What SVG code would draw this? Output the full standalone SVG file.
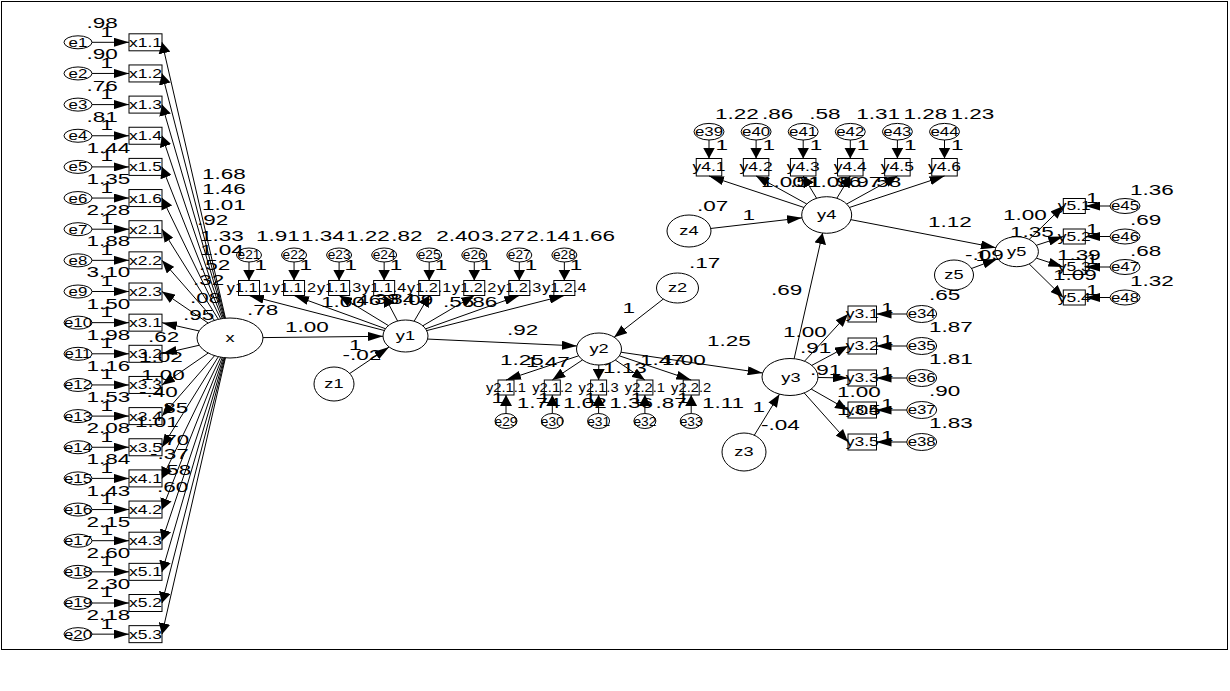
<svg xmlns="http://www.w3.org/2000/svg" width="1230" height="691" viewBox="0 0 1230 691">
<style>
.nd ellipse,.nd rect{fill:#fff;stroke:#000;stroke-width:1}
#connectors line{stroke:#000;stroke-width:1;fill:none}
text{font-family:"Liberation Sans",Arial,sans-serif;fill:#000;transform-box:fill-box}
.n{font-size:15px;transform-origin:0 50%;transform:scaleX(1.5)}
.nl{font-size:12.5px;text-anchor:middle;transform-origin:50% 50%;transform:scaleX(1.35)}
.ns{font-size:12.5px;text-anchor:middle;transform-origin:50% 50%;transform:scaleX(1.1)}
.lv{font-size:13px;text-anchor:middle;transform-origin:50% 50%;transform:scaleX(1.4)}
.bl{font-size:12.5px;text-anchor:middle;transform-origin:50% 50%;transform:scaleX(1.4)}
.b1{font-size:12.5px;text-anchor:middle;transform-origin:50% 50%;transform:scaleX(1.3)}
.b2{font-size:12.5px;text-anchor:middle;transform-origin:50% 50%;transform:scaleX(1.18)}
</style>
<defs>
<marker id="ah" viewBox="0 0 15 9" refX="15" refY="4.5" markerWidth="15" markerHeight="9" markerUnits="userSpaceOnUse" orient="auto"><path d="M0,0L15,4.5L0,9z" fill="#000"/></marker>
<marker id="av" viewBox="0 0 11 12" refX="11" refY="6" markerWidth="11" markerHeight="12" markerUnits="userSpaceOnUse" orient="auto"><path d="M0,0L11,6L0,12z" fill="#000"/></marker>
<marker id="ad" viewBox="0 0 13 10" refX="13" refY="5" markerWidth="13" markerHeight="10" markerUnits="userSpaceOnUse" orient="auto"><path d="M0,0L13,5L0,10z" fill="#000"/></marker>
</defs>
<rect x="1.5" y="1.5" width="1226" height="648" fill="#fff" stroke="#000" stroke-width="1"/>

<g class="nd">
<g id="x"><ellipse cx="230" cy="338" rx="33" ry="20"/><text class="lv" x="230" y="342.5">x</text></g>
<g id="y1"><ellipse cx="405.5" cy="336" rx="22.5" ry="16"/><text class="lv" x="405.5" y="340.5">y1</text></g>
<g id="y2"><ellipse cx="599" cy="349" rx="22.5" ry="16"/><text class="lv" x="599" y="353.5">y2</text></g>
<g id="y3"><ellipse cx="790" cy="377" rx="28" ry="18.5"/><text class="lv" x="791" y="382.5">y3</text></g>
<g id="y4"><ellipse cx="826.7" cy="215" rx="25" ry="18.3"/><text class="lv" x="826.7" y="219.5">y4</text></g>
<g id="y5"><ellipse cx="1016.7" cy="251.7" rx="21.7" ry="15"/><text class="lv" x="1016.7" y="256.5">y5</text></g>
<g id="z1"><ellipse cx="334" cy="384" rx="20" ry="17"/><text class="lv" x="334" y="388.5">z1</text></g>
<g id="z2"><ellipse cx="677.5" cy="288" rx="21" ry="15"/><text class="lv" x="677.5" y="292.5">z2</text></g>
<g id="z3"><ellipse cx="744" cy="452" rx="22" ry="19"/><text class="lv" x="744" y="456.5">z3</text></g>
<g id="z4"><ellipse cx="689" cy="231" rx="22" ry="16"/><text class="lv" x="689" y="235.5">z4</text></g>
<g id="z5"><ellipse cx="954" cy="275" rx="19.5" ry="15"/><text class="lv" x="954" y="279.5">z5</text></g>

<g id="e1"><ellipse cx="78" cy="42.3" rx="14" ry="6.5"/><text class="nl" x="78" y="46.8">e1</text></g>
<g id="e2"><ellipse cx="78" cy="73.45" rx="14" ry="6.5"/><text class="nl" x="78" y="77.95">e2</text></g>
<g id="e3"><ellipse cx="78" cy="104.6" rx="14" ry="6.5"/><text class="nl" x="78" y="109.1">e3</text></g>
<g id="e4"><ellipse cx="78" cy="135.75" rx="14" ry="6.5"/><text class="nl" x="78" y="140.25">e4</text></g>
<g id="e5"><ellipse cx="78" cy="166.9" rx="14" ry="6.5"/><text class="nl" x="78" y="171.4">e5</text></g>
<g id="e6"><ellipse cx="78" cy="198.05" rx="14" ry="6.5"/><text class="nl" x="78" y="202.55">e6</text></g>
<g id="e7"><ellipse cx="78" cy="229.2" rx="14" ry="6.5"/><text class="nl" x="78" y="233.7">e7</text></g>
<g id="e8"><ellipse cx="78" cy="260.35" rx="14" ry="6.5"/><text class="nl" x="78" y="264.85">e8</text></g>
<g id="e9"><ellipse cx="78" cy="291.5" rx="14" ry="6.5"/><text class="nl" x="78" y="296">e9</text></g>
<g id="e10"><ellipse cx="78" cy="322.65" rx="14" ry="6.5"/><text class="nl" x="78" y="327.15">e10</text></g>
<g id="e11"><ellipse cx="78" cy="353.8" rx="14" ry="6.5"/><text class="nl" x="78" y="358.3">e11</text></g>
<g id="e12"><ellipse cx="78" cy="384.95" rx="14" ry="6.5"/><text class="nl" x="78" y="389.45">e12</text></g>
<g id="e13"><ellipse cx="78" cy="416.1" rx="14" ry="6.5"/><text class="nl" x="78" y="420.6">e13</text></g>
<g id="e14"><ellipse cx="78" cy="447.25" rx="14" ry="6.5"/><text class="nl" x="78" y="451.75">e14</text></g>
<g id="e15"><ellipse cx="78" cy="478.4" rx="14" ry="6.5"/><text class="nl" x="78" y="482.9">e15</text></g>
<g id="e16"><ellipse cx="78" cy="509.55" rx="14" ry="6.5"/><text class="nl" x="78" y="514.05">e16</text></g>
<g id="e17"><ellipse cx="78" cy="540.7" rx="14" ry="6.5"/><text class="nl" x="78" y="545.2">e17</text></g>
<g id="e18"><ellipse cx="78" cy="571.85" rx="14" ry="6.5"/><text class="nl" x="78" y="576.35">e18</text></g>
<g id="e19"><ellipse cx="78" cy="603" rx="14" ry="6.5"/><text class="nl" x="78" y="607.5">e19</text></g>
<g id="e20"><ellipse cx="78" cy="634.15" rx="14" ry="6.5"/><text class="nl" x="78" y="638.65">e20</text></g>

<g id="x1.1"><rect x="129" y="33.8" width="33" height="17"/><text class="bl" x="145.5" y="46.8">x1.1</text></g>
<g id="x1.2"><rect x="129" y="64.95" width="33" height="17"/><text class="bl" x="145.5" y="77.95">x1.2</text></g>
<g id="x1.3"><rect x="129" y="96.1" width="33" height="17"/><text class="bl" x="145.5" y="109.1">x1.3</text></g>
<g id="x1.4"><rect x="129" y="127.25" width="33" height="17"/><text class="bl" x="145.5" y="140.25">x1.4</text></g>
<g id="x1.5"><rect x="129" y="158.4" width="33" height="17"/><text class="bl" x="145.5" y="171.4">x1.5</text></g>
<g id="x1.6"><rect x="129" y="189.55" width="33" height="17"/><text class="bl" x="145.5" y="202.55">x1.6</text></g>
<g id="x2.1"><rect x="129" y="220.7" width="33" height="17"/><text class="bl" x="145.5" y="233.7">x2.1</text></g>
<g id="x2.2"><rect x="129" y="251.85" width="33" height="17"/><text class="bl" x="145.5" y="264.85">x2.2</text></g>
<g id="x2.3"><rect x="129" y="283" width="33" height="17"/><text class="bl" x="145.5" y="296">x2.3</text></g>
<g id="x3.1"><rect x="129" y="314.15" width="33" height="17"/><text class="bl" x="145.5" y="327.15">x3.1</text></g>
<g id="x3.2"><rect x="129" y="345.3" width="33" height="17"/><text class="bl" x="145.5" y="358.3">x3.2</text></g>
<g id="x3.3"><rect x="129" y="376.45" width="33" height="17"/><text class="bl" x="145.5" y="389.45">x3.3</text></g>
<g id="x3.4"><rect x="129" y="407.6" width="33" height="17"/><text class="bl" x="145.5" y="420.6">x3.4</text></g>
<g id="x3.5"><rect x="129" y="438.75" width="33" height="17"/><text class="bl" x="145.5" y="451.75">x3.5</text></g>
<g id="x4.1"><rect x="129" y="469.9" width="33" height="17"/><text class="bl" x="145.5" y="482.9">x4.1</text></g>
<g id="x4.2"><rect x="129" y="501.05" width="33" height="17"/><text class="bl" x="145.5" y="514.05">x4.2</text></g>
<g id="x4.3"><rect x="129" y="532.2" width="33" height="17"/><text class="bl" x="145.5" y="545.2">x4.3</text></g>
<g id="x5.1"><rect x="129" y="563.35" width="33" height="17"/><text class="bl" x="145.5" y="576.35">x5.1</text></g>
<g id="x5.2"><rect x="129" y="594.5" width="33" height="17"/><text class="bl" x="145.5" y="607.5">x5.2</text></g>
<g id="x5.3"><rect x="129" y="625.65" width="33" height="17"/><text class="bl" x="145.5" y="638.65">x5.3</text></g>

<g id="e21"><ellipse cx="249" cy="255" rx="12.5" ry="7"/><text class="ns" x="249" y="259.5">e21</text></g>
<g id="e22"><ellipse cx="294.05" cy="255" rx="12.5" ry="7"/><text class="ns" x="294.05" y="259.5">e22</text></g>
<g id="e23"><ellipse cx="339.1" cy="255" rx="12.5" ry="7"/><text class="ns" x="339.1" y="259.5">e23</text></g>
<g id="e24"><ellipse cx="384.15" cy="255" rx="12.5" ry="7"/><text class="ns" x="384.15" y="259.5">e24</text></g>
<g id="e25"><ellipse cx="429.2" cy="255" rx="12.5" ry="7"/><text class="ns" x="429.2" y="259.5">e25</text></g>
<g id="e26"><ellipse cx="474.25" cy="255" rx="12.5" ry="7"/><text class="ns" x="474.25" y="259.5">e26</text></g>
<g id="e27"><ellipse cx="519.3" cy="255" rx="12.5" ry="7"/><text class="ns" x="519.3" y="259.5">e27</text></g>
<g id="e28"><ellipse cx="564.35" cy="255" rx="12.5" ry="7"/><text class="ns" x="564.35" y="259.5">e28</text></g>

<g id="y1.1.1"><rect x="238.5" y="280.5" width="21" height="15"/><text class="b1" x="249" y="292.5">y1.1.1</text></g>
<g id="y1.1.2"><rect x="283.55" y="280.5" width="21" height="15"/><text class="b1" x="294.05" y="292.5">y1.1.2</text></g>
<g id="y1.1.3"><rect x="328.6" y="280.5" width="21" height="15"/><text class="b1" x="339.1" y="292.5">y1.1.3</text></g>
<g id="y1.1.4"><rect x="373.65" y="280.5" width="21" height="15"/><text class="b1" x="384.15" y="292.5">y1.1.4</text></g>
<g id="y1.2.1"><rect x="418.7" y="280.5" width="21" height="15"/><text class="b1" x="429.2" y="292.5">y1.2.1</text></g>
<g id="y1.2.2"><rect x="463.75" y="280.5" width="21" height="15"/><text class="b1" x="474.25" y="292.5">y1.2.2</text></g>
<g id="y1.2.3"><rect x="508.8" y="280.5" width="21" height="15"/><text class="b1" x="519.3" y="292.5">y1.2.3</text></g>
<g id="y1.2.4"><rect x="553.85" y="280.5" width="21" height="15"/><text class="b1" x="564.35" y="292.5">y1.2.4</text></g>

<g id="y2.1.1"><rect x="498" y="380" width="16" height="15"/><text class="b2" x="506" y="392">y2.1.1</text></g>
<g id="y2.1.2"><rect x="544.3" y="380" width="16" height="15"/><text class="b2" x="552.3" y="392">y2.1.2</text></g>
<g id="y2.1.3"><rect x="590.6" y="380" width="16" height="15"/><text class="b2" x="598.6" y="392">y2.1.3</text></g>
<g id="y2.2.1"><rect x="636.9" y="380" width="16" height="15"/><text class="b2" x="644.9" y="392">y2.2.1</text></g>
<g id="y2.2.2"><rect x="683.2" y="380" width="16" height="15"/><text class="b2" x="691.2" y="392">y2.2.2</text></g>
<g id="e29"><ellipse cx="506" cy="421" rx="11" ry="7.5"/><text class="ns" x="506" y="425.5">e29</text></g>
<g id="e30"><ellipse cx="552.3" cy="421" rx="11" ry="7.5"/><text class="ns" x="552.3" y="425.5">e30</text></g>
<g id="e31"><ellipse cx="598.6" cy="421" rx="11" ry="7.5"/><text class="ns" x="598.6" y="425.5">e31</text></g>
<g id="e32"><ellipse cx="644.9" cy="421" rx="11" ry="7.5"/><text class="ns" x="644.9" y="425.5">e32</text></g>
<g id="e33"><ellipse cx="691.2" cy="421" rx="11" ry="7.5"/><text class="ns" x="691.2" y="425.5">e33</text></g>

<g id="y3.1"><rect x="848" y="306" width="28.5" height="16"/><text class="bl" x="862.25" y="318.5">y3.1</text></g>
<g id="y3.2"><rect x="848" y="338" width="28.5" height="16"/><text class="bl" x="862.25" y="350.5">y3.2</text></g>
<g id="y3.3"><rect x="848" y="370" width="28.5" height="16"/><text class="bl" x="862.25" y="382.5">y3.3</text></g>
<g id="y3.4"><rect x="848" y="402" width="28.5" height="16"/><text class="bl" x="862.25" y="414.5">y3.4</text></g>
<g id="y3.5"><rect x="848" y="434" width="28.5" height="16"/><text class="bl" x="862.25" y="446.5">y3.5</text></g>
<g id="e34"><ellipse cx="921.7" cy="314" rx="15" ry="8.5"/><text class="nl" x="921.7" y="318.5">e34</text></g>
<g id="e35"><ellipse cx="921.7" cy="346" rx="15" ry="8.5"/><text class="nl" x="921.7" y="350.5">e35</text></g>
<g id="e36"><ellipse cx="921.7" cy="378" rx="15" ry="8.5"/><text class="nl" x="921.7" y="382.5">e36</text></g>
<g id="e37"><ellipse cx="921.7" cy="410" rx="15" ry="8.5"/><text class="nl" x="921.7" y="414.5">e37</text></g>
<g id="e38"><ellipse cx="921.7" cy="442" rx="15" ry="8.5"/><text class="nl" x="921.7" y="446.5">e38</text></g>

<g id="y4.1"><rect x="696.25" y="158.5" width="25.5" height="17.5"/><text class="bl" x="709" y="171.5">y4.1</text></g>
<g id="y4.2"><rect x="743.35" y="158.5" width="25.5" height="17.5"/><text class="bl" x="756.1" y="171.5">y4.2</text></g>
<g id="y4.3"><rect x="790.45" y="158.5" width="25.5" height="17.5"/><text class="bl" x="803.2" y="171.5">y4.3</text></g>
<g id="y4.4"><rect x="837.55" y="158.5" width="25.5" height="17.5"/><text class="bl" x="850.3" y="171.5">y4.4</text></g>
<g id="y4.5"><rect x="884.65" y="158.5" width="25.5" height="17.5"/><text class="bl" x="897.4" y="171.5">y4.5</text></g>
<g id="y4.6"><rect x="931.75" y="158.5" width="25.5" height="17.5"/><text class="bl" x="944.5" y="171.5">y4.6</text></g>
<g id="e39"><ellipse cx="709" cy="131.7" rx="15" ry="8.3"/><text class="nl" x="709" y="136.2">e39</text></g>
<g id="e40"><ellipse cx="756.1" cy="131.7" rx="15" ry="8.3"/><text class="nl" x="756.1" y="136.2">e40</text></g>
<g id="e41"><ellipse cx="803.2" cy="131.7" rx="15" ry="8.3"/><text class="nl" x="803.2" y="136.2">e41</text></g>
<g id="e42"><ellipse cx="850.3" cy="131.7" rx="15" ry="8.3"/><text class="nl" x="850.3" y="136.2">e42</text></g>
<g id="e43"><ellipse cx="897.4" cy="131.7" rx="15" ry="8.3"/><text class="nl" x="897.4" y="136.2">e43</text></g>
<g id="e44"><ellipse cx="944.5" cy="131.7" rx="15" ry="8.3"/><text class="nl" x="944.5" y="136.2">e44</text></g>

<g id="y5.1"><rect x="1063.3" y="198.5" width="22" height="15"/><text class="bl" x="1074.3" y="210.5">y5.1</text></g>
<g id="y5.2"><rect x="1063.3" y="229" width="22" height="15"/><text class="bl" x="1074.3" y="241">y5.2</text></g>
<g id="y5.3"><rect x="1063.3" y="259.5" width="22" height="15"/><text class="bl" x="1074.3" y="271.5">y5.3</text></g>
<g id="y5.4"><rect x="1063.3" y="290" width="22" height="15"/><text class="bl" x="1074.3" y="302">y5.4</text></g>
<g id="e45"><ellipse cx="1125" cy="206" rx="15" ry="7.5"/><text class="nl" x="1125" y="210.5">e45</text></g>
<g id="e46"><ellipse cx="1125" cy="236.5" rx="15" ry="7.5"/><text class="nl" x="1125" y="241">e46</text></g>
<g id="e47"><ellipse cx="1125" cy="267" rx="15" ry="7.5"/><text class="nl" x="1125" y="271.5">e47</text></g>
<g id="e48"><ellipse cx="1125" cy="297.5" rx="15" ry="7.5"/><text class="nl" x="1125" y="302">e48</text></g>
</g>

<g id="connectors">
<line x1="92" y1="42.3" x2="129" y2="42.3" marker-end="url(#ah)"/>
<line x1="92" y1="73.45" x2="129" y2="73.45" marker-end="url(#ah)"/>
<line x1="92" y1="104.6" x2="129" y2="104.6" marker-end="url(#ah)"/>
<line x1="92" y1="135.75" x2="129" y2="135.75" marker-end="url(#ah)"/>
<line x1="92" y1="166.9" x2="129" y2="166.9" marker-end="url(#ah)"/>
<line x1="92" y1="198.05" x2="129" y2="198.05" marker-end="url(#ah)"/>
<line x1="92" y1="229.2" x2="129" y2="229.2" marker-end="url(#ah)"/>
<line x1="92" y1="260.35" x2="129" y2="260.35" marker-end="url(#ah)"/>
<line x1="92" y1="291.5" x2="129" y2="291.5" marker-end="url(#ah)"/>
<line x1="92" y1="322.65" x2="129" y2="322.65" marker-end="url(#ah)"/>
<line x1="92" y1="353.8" x2="129" y2="353.8" marker-end="url(#ah)"/>
<line x1="92" y1="384.95" x2="129" y2="384.95" marker-end="url(#ah)"/>
<line x1="92" y1="416.1" x2="129" y2="416.1" marker-end="url(#ah)"/>
<line x1="92" y1="447.25" x2="129" y2="447.25" marker-end="url(#ah)"/>
<line x1="92" y1="478.4" x2="129" y2="478.4" marker-end="url(#ah)"/>
<line x1="92" y1="509.55" x2="129" y2="509.55" marker-end="url(#ah)"/>
<line x1="92" y1="540.7" x2="129" y2="540.7" marker-end="url(#ah)"/>
<line x1="92" y1="571.85" x2="129" y2="571.85" marker-end="url(#ah)"/>
<line x1="92" y1="603" x2="129" y2="603" marker-end="url(#ah)"/>
<line x1="92" y1="634.15" x2="129" y2="634.15" marker-end="url(#ah)"/>

<line x1="225.45" y1="318.19" x2="162" y2="42.3" marker-end="url(#av)"/>
<line x1="224.92" y1="318.24" x2="162" y2="73.45" marker-end="url(#av)"/>
<line x1="224.26" y1="318.3" x2="162" y2="104.6" marker-end="url(#av)"/>
<line x1="223.4" y1="318.4" x2="162" y2="135.75" marker-end="url(#av)"/>
<line x1="222.27" y1="318.56" x2="162" y2="166.9" marker-end="url(#av)"/>
<line x1="220.68" y1="318.81" x2="162" y2="198.05" marker-end="url(#av)"/>
<line x1="218.33" y1="319.29" x2="162" y2="229.2" marker-end="url(#ad)"/>
<line x1="214.51" y1="320.34" x2="162" y2="260.35" marker-end="url(#ad)"/>
<line x1="208.11" y1="323.03" x2="162" y2="291.5" marker-end="url(#ad)"/>
<line x1="199.11" y1="330.96" x2="162" y2="322.65" marker-end="url(#ah)"/>
<line x1="199.24" y1="345.24" x2="162" y2="353.8" marker-end="url(#ah)"/>
<line x1="208.24" y1="353.04" x2="162" y2="384.95" marker-end="url(#ad)"/>
<line x1="214.58" y1="355.68" x2="162" y2="416.1" marker-end="url(#ad)"/>
<line x1="218.33" y1="356.71" x2="162" y2="447.25" marker-end="url(#ad)"/>
<line x1="220.71" y1="357.19" x2="162" y2="478.4" marker-end="url(#av)"/>
<line x1="222.29" y1="357.45" x2="162" y2="509.55" marker-end="url(#av)"/>
<line x1="223.42" y1="357.6" x2="162" y2="540.7" marker-end="url(#av)"/>
<line x1="224.28" y1="357.7" x2="162" y2="571.85" marker-end="url(#av)"/>
<line x1="224.93" y1="357.76" x2="162" y2="603" marker-end="url(#av)"/>
<line x1="225.45" y1="357.81" x2="162" y2="634.15" marker-end="url(#av)"/>

<line x1="263" y1="337.6" x2="383" y2="336.3" marker-end="url(#ah)"/>
<line x1="349.7" y1="373.5" x2="389.1" y2="347" marker-end="url(#ah)"/>

<line x1="249" y1="262" x2="249" y2="280.5" marker-end="url(#av)"/>
<line x1="294.05" y1="262" x2="294.05" y2="280.5" marker-end="url(#av)"/>
<line x1="339.1" y1="262" x2="339.1" y2="280.5" marker-end="url(#av)"/>
<line x1="384.15" y1="262" x2="384.15" y2="280.5" marker-end="url(#av)"/>
<line x1="429.2" y1="262" x2="429.2" y2="280.5" marker-end="url(#av)"/>
<line x1="474.25" y1="262" x2="474.25" y2="280.5" marker-end="url(#av)"/>
<line x1="519.3" y1="262" x2="519.3" y2="280.5" marker-end="url(#av)"/>
<line x1="564.35" y1="262" x2="564.35" y2="280.5" marker-end="url(#av)"/>

<line x1="384.36" y1="330.53" x2="249" y2="295.5" marker-end="url(#ah)"/>
<line x1="385.46" y1="328.72" x2="294.05" y2="295.5" marker-end="url(#ah)"/>
<line x1="388.42" y1="325.58" x2="339.1" y2="295.5" marker-end="url(#ad)"/>
<line x1="397.6" y1="321.02" x2="384.15" y2="295.5" marker-end="url(#av)"/>
<line x1="414.14" y1="321.23" x2="429.2" y2="295.5" marker-end="url(#av)"/>
<line x1="422.83" y1="325.79" x2="474.25" y2="295.5" marker-end="url(#ad)"/>
<line x1="425.62" y1="328.84" x2="519.3" y2="295.5" marker-end="url(#ah)"/>
<line x1="426.68" y1="330.6" x2="564.35" y2="295.5" marker-end="url(#ah)"/>

<line x1="427.58" y1="339.07" x2="576.92" y2="345.93" marker-end="url(#ah)"/>
<line x1="663.29" y1="299.04" x2="614.19" y2="337.2" marker-end="url(#ad)"/>
<line x1="621.04" y1="352.23" x2="762.66" y2="372.99" marker-end="url(#ah)"/>

<line x1="578.63" y1="355.79" x2="506" y2="380" marker-end="url(#ah)"/>
<line x1="582.55" y1="359.92" x2="552.3" y2="380" marker-end="url(#ad)"/>
<line x1="598.79" y1="365" x2="598.6" y2="380" marker-end="url(#av)"/>
<line x1="615.31" y1="360.02" x2="644.9" y2="380" marker-end="url(#ad)"/>
<line x1="619.34" y1="355.84" x2="691.2" y2="380" marker-end="url(#ah)"/>
<line x1="506" y1="413.5" x2="506" y2="395" marker-end="url(#av)"/>
<line x1="552.3" y1="413.5" x2="552.3" y2="395" marker-end="url(#av)"/>
<line x1="598.6" y1="413.5" x2="598.6" y2="395" marker-end="url(#av)"/>
<line x1="644.9" y1="413.5" x2="644.9" y2="395" marker-end="url(#av)"/>
<line x1="691.2" y1="413.5" x2="691.2" y2="395" marker-end="url(#av)"/>

<line x1="804.55" y1="361.19" x2="848" y2="314" marker-end="url(#ad)"/>
<line x1="811.77" y1="365.37" x2="848" y2="346" marker-end="url(#ad)"/>
<line x1="817.99" y1="377.48" x2="848" y2="378" marker-end="url(#ah)"/>
<line x1="811.22" y1="389.07" x2="848" y2="410" marker-end="url(#ad)"/>
<line x1="804.22" y1="392.94" x2="848" y2="442" marker-end="url(#ad)"/>
<line x1="906.7" y1="314" x2="876.5" y2="314" marker-end="url(#ah)"/>
<line x1="906.7" y1="346" x2="876.5" y2="346" marker-end="url(#ah)"/>
<line x1="906.7" y1="378" x2="876.5" y2="378" marker-end="url(#ah)"/>
<line x1="906.7" y1="410" x2="876.5" y2="410" marker-end="url(#ah)"/>
<line x1="906.7" y1="442" x2="876.5" y2="442" marker-end="url(#ah)"/>
<line x1="754.3" y1="435.21" x2="779.48" y2="394.15" marker-end="url(#ad)"/>
<line x1="794.14" y1="358.7" x2="822.61" y2="233.05" marker-end="url(#av)"/>

<line x1="803.92" y1="207.45" x2="709" y2="176" marker-end="url(#ah)"/>
<line x1="806.74" y1="203.98" x2="756.1" y2="176" marker-end="url(#ad)"/>
<line x1="816.61" y1="198.26" x2="803.2" y2="176" marker-end="url(#av)"/>
<line x1="836.82" y1="198.27" x2="850.3" y2="176" marker-end="url(#av)"/>
<line x1="846.66" y1="203.99" x2="897.4" y2="176" marker-end="url(#ad)"/>
<line x1="849.48" y1="207.46" x2="944.5" y2="176" marker-end="url(#ah)"/>
<line x1="709" y1="140" x2="709" y2="158.5" marker-end="url(#av)"/>
<line x1="756.1" y1="140" x2="756.1" y2="158.5" marker-end="url(#av)"/>
<line x1="803.2" y1="140" x2="803.2" y2="158.5" marker-end="url(#av)"/>
<line x1="850.3" y1="140" x2="850.3" y2="158.5" marker-end="url(#av)"/>
<line x1="897.4" y1="140" x2="897.4" y2="158.5" marker-end="url(#av)"/>
<line x1="944.5" y1="140" x2="944.5" y2="158.5" marker-end="url(#av)"/>
<line x1="710.72" y1="228.48" x2="802.01" y2="217.87" marker-end="url(#ah)"/>
<line x1="850.87" y1="219.67" x2="995.8" y2="247.66" marker-end="url(#ah)"/>

<line x1="1029.2" y1="239.44" x2="1063.3" y2="206" marker-end="url(#ad)"/>
<line x1="1036.33" y1="245.3" x2="1063.3" y2="236.5" marker-end="url(#ah)"/>
<line x1="1036.3" y1="258.14" x2="1063.3" y2="267" marker-end="url(#ah)"/>
<line x1="1029.18" y1="263.97" x2="1063.3" y2="297.5" marker-end="url(#ad)"/>
<line x1="1110" y1="206" x2="1085.3" y2="206" marker-end="url(#ah)"/>
<line x1="1110" y1="236.5" x2="1085.3" y2="236.5" marker-end="url(#ah)"/>
<line x1="1110" y1="267" x2="1085.3" y2="267" marker-end="url(#ah)"/>
<line x1="1110" y1="297.5" x2="1085.3" y2="297.5" marker-end="url(#ah)"/>
<line x1="971.56" y1="268.48" x2="997.59" y2="258.8" marker-end="url(#ah)"/>
</g>

<g id="labels">
<text class="n" x="86.5" y="28.3">.98</text>
<text class="n" x="86.5" y="59.45">.90</text>
<text class="n" x="86.5" y="90.6">.76</text>
<text class="n" x="86.5" y="121.75">.81</text>
<text class="n" x="86.5" y="152.9">1.44</text>
<text class="n" x="86.5" y="184.05">1.35</text>
<text class="n" x="86.5" y="215.2">2.28</text>
<text class="n" x="86.5" y="246.35">1.88</text>
<text class="n" x="86.5" y="277.5">3.10</text>
<text class="n" x="86.5" y="308.65">1.50</text>
<text class="n" x="86.5" y="339.8">1.98</text>
<text class="n" x="86.5" y="370.95">1.16</text>
<text class="n" x="86.5" y="402.1">1.53</text>
<text class="n" x="86.5" y="433.25">2.08</text>
<text class="n" x="86.5" y="464.4">1.84</text>
<text class="n" x="86.5" y="495.55">1.43</text>
<text class="n" x="86.5" y="526.7">2.15</text>
<text class="n" x="86.5" y="557.85">2.60</text>
<text class="n" x="86.5" y="589">2.30</text>
<text class="n" x="86.5" y="620.15">2.18</text>

<text class="n" x="100.5" y="36.8">1</text>
<text class="n" x="100.5" y="67.95">1</text>
<text class="n" x="100.5" y="99.1">1</text>
<text class="n" x="100.5" y="130.25">1</text>
<text class="n" x="100.5" y="161.4">1</text>
<text class="n" x="100.5" y="192.55">1</text>
<text class="n" x="100.5" y="223.7">1</text>
<text class="n" x="100.5" y="254.85">1</text>
<text class="n" x="100.5" y="286">1</text>
<text class="n" x="100.5" y="317.15">1</text>
<text class="n" x="100.5" y="348.3">1</text>
<text class="n" x="100.5" y="379.45">1</text>
<text class="n" x="100.5" y="410.6">1</text>
<text class="n" x="100.5" y="441.75">1</text>
<text class="n" x="100.5" y="472.9">1</text>
<text class="n" x="100.5" y="504.05">1</text>
<text class="n" x="100.5" y="535.2">1</text>
<text class="n" x="100.5" y="566.35">1</text>
<text class="n" x="100.5" y="597.5">1</text>
<text class="n" x="100.5" y="628.65">1</text>

<text class="n" x="202" y="179">1.68</text>
<text class="n" x="202" y="194">1.46</text>
<text class="n" x="202" y="210">1.01</text>
<text class="n" x="197" y="225">.92</text>
<text class="n" x="200" y="240.7">1.33</text>
<text class="n" x="200" y="255">1.04</text>
<text class="n" x="199" y="270">.52</text>
<text class="n" x="193" y="285">.32</text>
<text class="n" x="190" y="303">.08</text>
<text class="n" x="183" y="320">.95</text>
<text class="n" x="148" y="341.7">.62</text>
<text class="n" x="139" y="361.7">1.02</text>
<text class="n" x="141" y="380">1.00</text>
<text class="n" x="139" y="396.7">-.40</text>
<text class="n" x="157" y="413">.85</text>
<text class="n" x="135" y="426.7">1.01</text>
<text class="n" x="158" y="445">.70</text>
<text class="n" x="150" y="459">-.37</text>
<text class="n" x="160" y="475">.58</text>
<text class="n" x="157" y="491.7">.60</text>

<text class="n" x="285" y="331.7">1.00</text>
<text class="n" x="349" y="350">1</text>
<text class="n" x="342.5" y="360">-.02</text>

<text class="n" x="256" y="241.5">1.91</text>
<text class="n" x="301.05" y="241.5">1.34</text>
<text class="n" x="346.1" y="241.5">1.22</text>
<text class="n" x="391.15" y="241.5">.82</text>
<text class="n" x="436.2" y="241.5">2.40</text>
<text class="n" x="481.25" y="241.5">3.27</text>
<text class="n" x="526.3" y="241.5">2.14</text>
<text class="n" x="571.35" y="241.5">1.66</text>
<text class="n" x="254.5" y="270">1</text>
<text class="n" x="299.55" y="270">1</text>
<text class="n" x="344.6" y="270">1</text>
<text class="n" x="389.65" y="270">1</text>
<text class="n" x="434.7" y="270">1</text>
<text class="n" x="479.75" y="270">1</text>
<text class="n" x="524.8" y="270">1</text>
<text class="n" x="569.85" y="270">1</text>

<text class="n" x="247" y="315">.78</text>
<text class="n" x="321" y="307">1.00</text>
<text class="n" x="350" y="305">.46</text>
<text class="n" x="368" y="304">.38</text>
<text class="n" x="384" y="304">.84</text>
<text class="n" x="402" y="305">.09</text>
<text class="n" x="443" y="307">.56</text>
<text class="n" x="466" y="307">.86</text>

<text class="n" x="507" y="335">.92</text>
<text class="n" x="622.5" y="313">1</text>
<text class="n" x="689" y="268">.17</text>
<text class="n" x="707" y="346.5">1.25</text>

<text class="n" x="500" y="365">1.25</text>
<text class="n" x="526" y="367">1.47</text>
<text class="n" x="603" y="373">1.13</text>
<text class="n" x="640" y="365">1.47</text>
<text class="n" x="662" y="365">1.00</text>
<text class="n" x="491.5" y="403">1</text>
<text class="n" x="537.8" y="403">1</text>
<text class="n" x="584.1" y="403">1</text>
<text class="n" x="630.4" y="403">1</text>
<text class="n" x="676.7" y="403">1</text>
<text class="n" x="516.7" y="408">1.74</text>
<text class="n" x="563" y="408">1.02</text>
<text class="n" x="609.3" y="408">1.36</text>
<text class="n" x="655.6" y="408">.87</text>
<text class="n" x="701.9" y="408">1.11</text>

<text class="n" x="783" y="336.7">1.00</text>
<text class="n" x="800" y="353">.91</text>
<text class="n" x="810" y="375">.91</text>
<text class="n" x="837" y="396.7">1.00</text>
<text class="n" x="837" y="415">1.05</text>
<text class="n" x="881" y="313">1</text>
<text class="n" x="881" y="345">1</text>
<text class="n" x="881" y="377">1</text>
<text class="n" x="881" y="409">1</text>
<text class="n" x="881" y="441">1</text>
<text class="n" x="929" y="300.5">.65</text>
<text class="n" x="929" y="332.5">1.87</text>
<text class="n" x="929" y="364.5">1.81</text>
<text class="n" x="929" y="396.5">.90</text>
<text class="n" x="929" y="428.5">1.83</text>
<text class="n" x="752.5" y="412">1</text>
<text class="n" x="761" y="430">-.04</text>
<text class="n" x="771" y="295">.69</text>

<text class="n" x="715" y="119.5">1.22</text>
<text class="n" x="762.1" y="119.5">.86</text>
<text class="n" x="809.2" y="119.5">.58</text>
<text class="n" x="856.3" y="119.5">1.31</text>
<text class="n" x="903.4" y="119.5">1.28</text>
<text class="n" x="950.5" y="119.5">1.23</text>
<text class="n" x="715.5" y="150">1</text>
<text class="n" x="762.6" y="150">1</text>
<text class="n" x="809.7" y="150">1</text>
<text class="n" x="856.8" y="150">1</text>
<text class="n" x="903.9" y="150">1</text>
<text class="n" x="951" y="150">1</text>
<text class="n" x="761" y="186.7">1.00</text>
<text class="n" x="790" y="186.7">.51</text>
<text class="n" x="808" y="186.7">1.08</text>
<text class="n" x="830" y="186.7">.96</text>
<text class="n" x="850" y="186.7">.97</text>
<text class="n" x="870" y="186.7">.58</text>
<text class="n" x="742.5" y="220">1</text>
<text class="n" x="697" y="211.5">.07</text>
<text class="n" x="928" y="226.7">1.12</text>

<text class="n" x="1003" y="220">1.00</text>
<text class="n" x="1010" y="236.7">1.35</text>
<text class="n" x="1057" y="260">1.39</text>
<text class="n" x="1053" y="280">1.09</text>
<text class="n" x="1086" y="203.3">1</text>
<text class="n" x="1086" y="233.8">1</text>
<text class="n" x="1086" y="264.3">1</text>
<text class="n" x="1086" y="294.8">1</text>
<text class="n" x="1130" y="195">1.36</text>
<text class="n" x="1130" y="225.5">.69</text>
<text class="n" x="1130" y="256">.68</text>
<text class="n" x="1130" y="286.5">1.32</text>
<text class="n" x="975.5" y="261">1</text>
<text class="n" x="965" y="260">-.09</text>
</g>
</svg>
